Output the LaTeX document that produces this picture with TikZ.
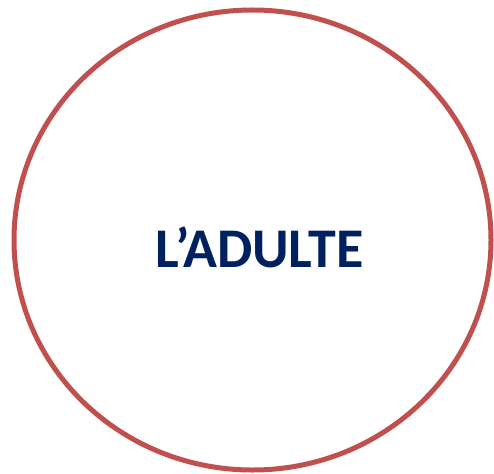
\documentclass[tikz,border=0pt]{standalone}
\usepackage{fontspec}
\setmainfont{Carlito}
\usetikzlibrary{shapes.geometric, positioning}
\definecolor{AdultRed}{RGB}{192, 80, 77}
\definecolor{AdultBlue}{RGB}{0, 32, 96}

\begin{document}
\begin{tikzpicture}[x=1pt, y=-1pt]
  \useasboundingbox (0,0) rectangle (494,473);
  \node[ellipse, draw=AdultRed, line width=5pt, minimum width=477pt, minimum height=460pt, inner sep=0pt] (cercle) at (252.5,240) {};
  \node[inner sep=0pt, text=AdultBlue] (titre) at (259.5,247.5)
    {\fontsize{56}{66}\selectfont\bfseries L’ADULTE};
\end{tikzpicture}
\end{document}
